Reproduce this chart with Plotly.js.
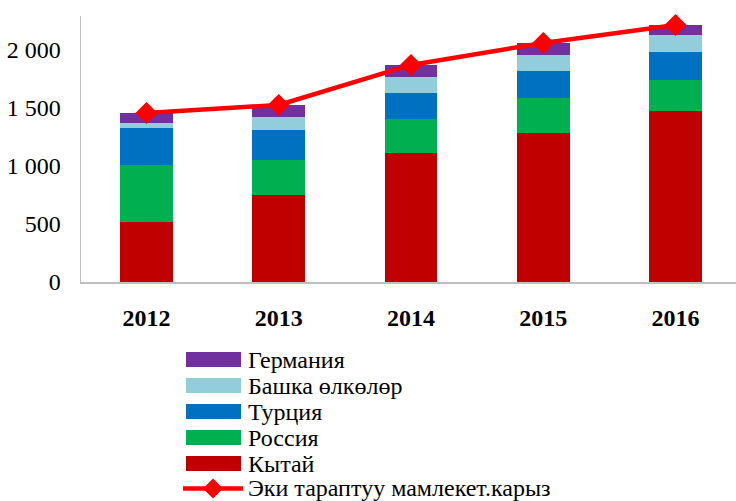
<!DOCTYPE html>
<html>
<head>
<meta charset="utf-8">
<script src="https://cdn.plot.ly/plotly-3.0.1.min.js"></script>
<style>html,body{margin:0;padding:0;background:#fff;}#chart{width:736px;height:501px;}</style>
</head>
<body>
<div id="chart"></div>
<script>
const years = ['2012', '2013', '2014', '2015', '2016'];
const china = [516, 748, 1110, 1282, 1471];
const russia = [490, 301, 292, 301, 267];
const turkey = [319, 259, 224, 232, 241];
const others = [43, 111, 137, 138, 146];
const germany = [86, 104, 104, 103, 86];
const bilateralDebt = [1454, 1523, 1867, 2056, 2211];

const names = ['Германия', 'Башка өлкөлөр', 'Турция', 'Россия', 'Кытай', 'Эки тараптуу мамлекет.карыз'];
const colors = ['#7030A0', '#92CDDC', '#0070C0', '#00B050', '#C00000', '#FF0000'];

const W = 736, H = 501;
const L = 81, R = 0, T = 16, B = 219;
const pw = W - L - R, ph = H - T - B;
const px2x = p => (p - L) / pw;
const py2y = p => (H - B - p) / ph;

const font = 'Liberation Serif';

function bar(name, y, color) {
  return {type: 'bar', name: name, x: years, y: y, marker: {color: color, line: {width: 0}},
          showlegend: false, hoverinfo: 'x+y+name'};
}

const traces = [
  bar(names[4], china, colors[4]),
  bar(names[3], russia, colors[3]),
  bar(names[2], turkey, colors[2]),
  bar(names[1], others, colors[1]),
  bar(names[0], germany, colors[0]),
  {type: 'scatter', mode: 'lines+markers', name: names[5], x: years, y: bilateralDebt,
   line: {color: colors[5], width: 4.5}, marker: {symbol: 'diamond', size: 17, color: colors[5]},
   showlegend: false, cliponaxis: false}
];

// manual legend (wide swatches like the original)
const rowY = [359.5, 385.5, 411.5, 437.5, 463.5, 488.5];
const shapes = [], annotations = [];
names.forEach((n, i) => {
  const cy = rowY[i];
  if (i < 5) {
    shapes.push({type: 'rect', xref: 'paper', yref: 'paper',
      x0: px2x(186), x1: px2x(241), y0: py2y(cy - 7.5), y1: py2y(cy + 7.5),
      fillcolor: colors[i], line: {width: 0}});
  } else {
    shapes.push({type: 'line', xref: 'paper', yref: 'paper',
      x0: px2x(183), x1: px2x(243), y0: py2y(cy), y1: py2y(cy),
      line: {color: colors[i], width: 4.5}});
    const s = 10;
    shapes.push({type: 'path', xref: 'paper', yref: 'paper',
      path: `M ${px2x(213)} ${py2y(cy - s)} L ${px2x(213 + s)} ${py2y(cy)} L ${px2x(213)} ${py2y(cy + s)} L ${px2x(213 - s)} ${py2y(cy)} Z`,
      fillcolor: colors[i], line: {width: 0}});
  }
  annotations.push({xref: 'paper', yref: 'paper', x: px2x(246), y: py2y(cy), xanchor: 'left', yanchor: 'middle',
    text: n, showarrow: false, font: {family: font, size: 24, color: '#000'}});
});

const layout = {
  width: W, height: H,
  margin: {l: L, r: R, t: T, b: B, pad: 0},
  paper_bgcolor: '#fff', plot_bgcolor: '#fff',
  barmode: 'stack', bargap: 0.6,
  separators: '. ',
  showlegend: false,
  font: {family: font},
  xaxis: {type: 'category', range: [-0.495, 4.457], showline: true, linecolor: '#BFBFBF', linewidth: 1.5,
          showgrid: false, zeroline: false, ticks: '', ticklabelstandoff: 14,
          tickfont: {family: font, size: 24, color: '#000', weight: 'bold'}},
  yaxis: {range: [0, 2288], tickvals: [0, 500, 1000, 1500, 2000], separatethousands: true, tickformat: ',d',
          showline: true, linecolor: '#BFBFBF', linewidth: 1.5, showgrid: false, zeroline: false,
          ticks: '', ticklabelstandoff: 14,
          tickfont: {family: font, size: 24, color: '#000'}},
  shapes: shapes, annotations: annotations
};

Plotly.newPlot('chart', traces, layout, {displayModeBar: false, staticPlot: true});
</script>
</body>
</html>
